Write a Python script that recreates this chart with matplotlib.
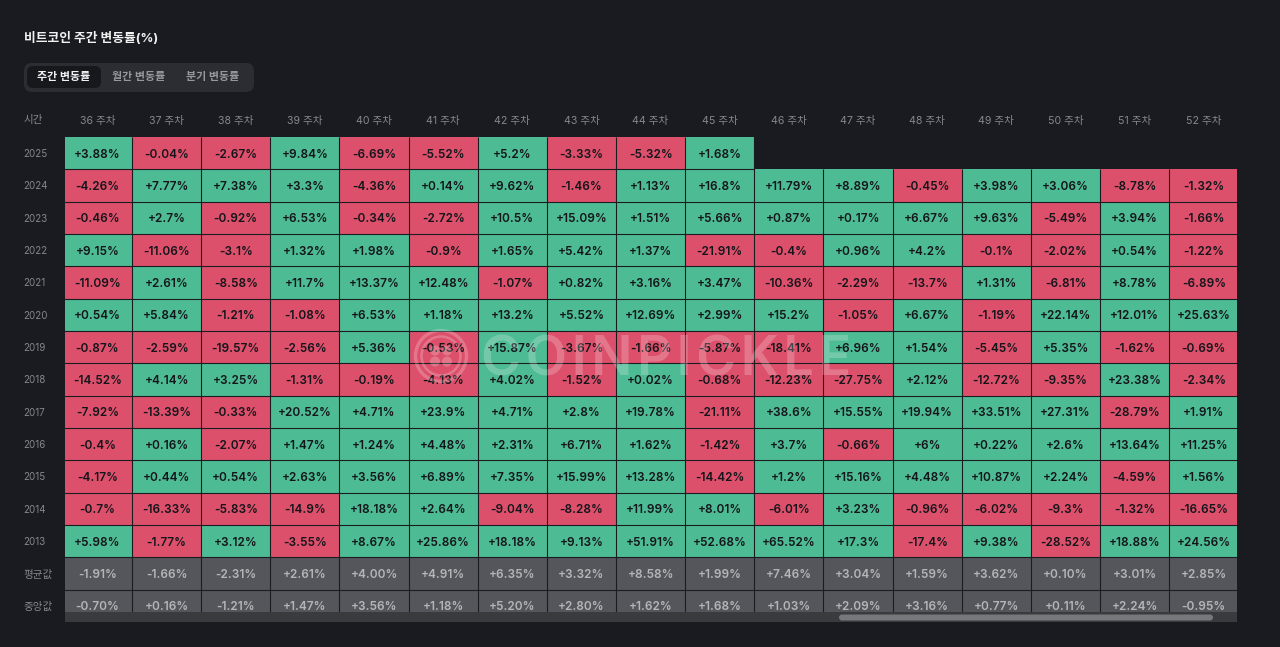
import matplotlib
matplotlib.use("Agg")
import matplotlib.pyplot as plt
from matplotlib.colors import ListedColormap
from matplotlib.patches import FancyBboxPatch, Circle, Rectangle
import numpy as np

W, H = 1280, 647
BG = '#1a1b20'
FONT = ['Inter', 'Noto Sans CJK KR', 'DejaVu Sans']
plt.rcParams['font.family'] = FONT

title = '비트코인 주간 변동률(%)'
tabs = ['주간 변동률', '월간 변동률', '분기 변동률']
corner = '시간'
weeks = ['36 주차', '37 주차', '38 주차', '39 주차', '40 주차', '41 주차', '42 주차', '43 주차', '44 주차',
         '45 주차', '46 주차', '47 주차', '48 주차', '49 주차', '50 주차', '51 주차', '52 주차']
row_labels = ['2025', '2024', '2023', '2022', '2021', '2020', '2019', '2018', '2017', '2016', '2015', '2014',
              '2013', '평균값', '중앙값']

y2025 = '+3.88 -0.04 -2.67 +9.84 -6.69 -5.52 +5.2 -3.33 -5.32 +1.68'.split()
y2024 = '-4.26 +7.77 +7.38 +3.3 -4.36 +0.14 +9.62 -1.46 +1.13 +16.8 +11.79 +8.89 -0.45 +3.98 +3.06 -8.78 -1.32'.split()
y2023 = '-0.46 +2.7 -0.92 +6.53 -0.34 -2.72 +10.5 +15.09 +1.51 +5.66 +0.87 +0.17 +6.67 +9.63 -5.49 +3.94 -1.66'.split()
y2022 = '+9.15 -11.06 -3.1 +1.32 +1.98 -0.9 +1.65 +5.42 +1.37 -21.91 -0.4 +0.96 +4.2 -0.1 -2.02 +0.54 -1.22'.split()
y2021 = '-11.09 +2.61 -8.58 +11.7 +13.37 +12.48 -1.07 +0.82 +3.16 +3.47 -10.36 -2.29 -13.7 +1.31 -6.81 +8.78 -6.89'.split()
y2020 = '+0.54 +5.84 -1.21 -1.08 +6.53 +1.18 +13.2 +5.52 +12.69 +2.99 +15.2 -1.05 +6.67 -1.19 +22.14 +12.01 +25.63'.split()
y2019 = '-0.87 -2.59 -19.57 -2.56 +5.36 -0.53 +15.87 -3.67 -1.66 -5.87 -18.41 +6.96 +1.54 -5.45 +5.35 -1.62 -0.69'.split()
y2018 = '-14.52 +4.14 +3.25 -1.31 -0.19 -4.13 +4.02 -1.52 +0.02 -0.68 -12.23 -27.75 +2.12 -12.72 -9.35 +23.38 -2.34'.split()
y2017 = '-7.92 -13.39 -0.33 +20.52 +4.71 +23.9 +4.71 +2.8 +19.78 -21.11 +38.6 +15.55 +19.94 +33.51 +27.31 -28.79 +1.91'.split()
y2016 = '-0.4 +0.16 -2.07 +1.47 +1.24 +4.48 +2.31 +6.71 +1.62 -1.42 +3.7 -0.66 +6 +0.22 +2.6 +13.64 +11.25'.split()
y2015 = '-4.17 +0.44 +0.54 +2.63 +3.56 +6.89 +7.35 +15.99 +13.28 -14.42 +1.2 +15.16 +4.48 +10.87 +2.24 -4.59 +1.56'.split()
y2014 = '-0.7 -16.33 -5.83 -14.9 +18.18 +2.64 -9.04 -8.28 +11.99 +8.01 -6.01 +3.23 -0.96 -6.02 -9.3 -1.32 -16.65'.split()
y2013 = '+5.98 -1.77 +3.12 -3.55 +8.67 +25.86 +18.18 +9.13 +51.91 +52.68 +65.52 +17.3 -17.4 +9.38 -28.52 +18.88 +24.56'.split()
mean_row = '-1.91 -1.66 -2.31 +2.61 +4.00 +4.91 +6.35 +3.32 +8.58 +1.99 +7.46 +3.04 +1.59 +3.62 +0.10 +3.01 +2.85'.split()
median_row = '-0.70 +0.16 -1.21 +1.47 +3.56 +1.18 +5.20 +2.80 +1.62 +1.68 +1.03 +2.09 +3.16 +0.77 +0.11 +2.24 -0.95'.split()

year_rows = [y2025, y2024, y2023, y2022, y2021, y2020, y2019, y2018, y2017, y2016, y2015, y2014, y2013]
stat_rows = [mean_row, median_row]
all_rows = year_rows + stat_rows

fig = plt.figure(figsize=(W / 100, H / 100), dpi=100, facecolor=BG)


def px_axes(x0, y0, x1, y1):
    return fig.add_axes([x0 / W, 1 - y1 / H, (x1 - x0) / W, (y1 - y0) / H])


# Heatmap: the table scrolls slightly under both side edges
n_rows, n_cols = len(all_rows), len(weeks)
ROW_H = 32.33
AX_LEFT, AX_RIGHT, AX_TOP, AX_BOTTOM = 65, 1237, 137, 612
ax = px_axes(AX_LEFT, AX_TOP, AX_RIGHT, AX_BOTTOM)
ax.set_facecolor(BG)
grid = np.full((n_rows, n_cols), np.nan)
for r, row in enumerate(all_rows):
    for c, v in enumerate(row):
        if r >= len(year_rows):
            grid[r, c] = 2
        else:
            grid[r, c] = 1 if float(v) >= 0 else 0
cmap = ListedColormap(['#dd506c', '#4dbb94', '#55565b'])
ax.pcolormesh(np.arange(n_cols + 1), np.arange(n_rows + 1), np.ma.masked_invalid(grid), cmap=cmap, vmin=0, vmax=2,
              edgecolors='none', antialiased=False)
ax.set_xlim(0.031, 16.98)
ax.set_ylim((AX_BOTTOM - AX_TOP) / ROW_H, 0)
for s in ax.spines.values():
    s.set_visible(False)

# Thin cell separators, only where cells exist
LINE = '#1b1c20'
filled = ~np.isnan(grid)
for c in range(1, n_cols):
    first = int(np.argmax(filled[:, c] | filled[:, c - 1]))
    ax.vlines(c, first, n_rows, color=LINE, lw=0.8)
for r in range(1, n_rows):
    ax.hlines(r, 0, int(filled[r - 1].sum()), color=LINE, lw=0.8)

for r, row in enumerate(all_rows):
    is_stat = r >= len(year_rows)
    for c, v in enumerate(row):
        ax.text(c + 0.5, r + 0.5, v + '%', ha='center', va='center_baseline', fontsize=8.5, fontweight='semibold',
                color='#b4b5b8' if is_stat else '#14151a', clip_on=True)

ax.xaxis.tick_top()
ax.set_xticks(np.arange(n_cols) + 0.5, weeks, fontsize=7.6, color='#86878b', family=FONT)
ax.tick_params(axis='x', length=0, pad=8)
ax.set_yticks(np.arange(n_rows) + 0.5, row_labels, fontsize=7, color='#86878b', family=FONT, ha='left')
ax.tick_params(axis='y', length=0, pad=29.8)
for lab in ax.get_yticklabels()[-2:]:
    lab.set_fontsize(7.6)

# Overlay in pixel coordinates for the page furniture
ov = fig.add_axes([0, 0, 1, 1], facecolor='none', zorder=5)
ov.set_xlim(0, W)
ov.set_ylim(H, 0)
ov.axis('off')

ov.text(24, 38, title, fontsize=9.2, fontweight='bold', color='#f2f2f3', ha='left', va='center', family=FONT)


def rbox(x0, y0, x1, y1, r, color):
    ov.add_patch(FancyBboxPatch((x0 + r, y0 + r), x1 - x0 - 2 * r, y1 - y0 - 2 * r,
                                boxstyle=f'round,pad={r},rounding_size={r}', fc=color, ec='none'))


rbox(24, 63, 254, 92, 8, '#2c2d33')
rbox(27, 66, 101, 88, 6, '#17181c')
for label, cx, col in zip(tabs, [63.5, 138.5, 213], ['#f2f2f3', '#97989c', '#97989c']):
    ov.text(cx, 77, label, fontsize=7.9, fontweight='bold', color=col, ha='center', va='center', family=FONT)
ov.text(24, 120, corner, fontsize=7.6, color='#86878b', ha='left', va='center', family=FONT)

# Scrollbar
ov.add_patch(Rectangle((65, 612), 1172, 10, fc='#3a3b3f', ec='none'))
rbox(839, 614.5, 1213, 620.5, 3, '#77787c')

# Watermark
WM = (1, 1, 1, 0.22)
ov.add_patch(Circle((441, 356), 25.5, fc='none', ec=WM, lw=2.4))
ov.add_patch(Circle((441, 356), 19.5, fc='none', ec=WM, lw=1.8))
for dx in (-6, 6):
    for dy in (-5.5, 5.5):
        ov.add_patch(Circle((441 + dx, 356 + dy), 5, fc=WM, ec='none'))
ov.text(666.5, 355, 'C\u200aO\u200aI\u200aN\u200aP\u200aI\u200aC\u200aK\u200aL\u200aE', fontsize=39, fontweight='semibold',
        color=WM, ha='center', va='center_baseline', family=FONT)

fig.savefig('out.png', dpi=100, facecolor=BG)
